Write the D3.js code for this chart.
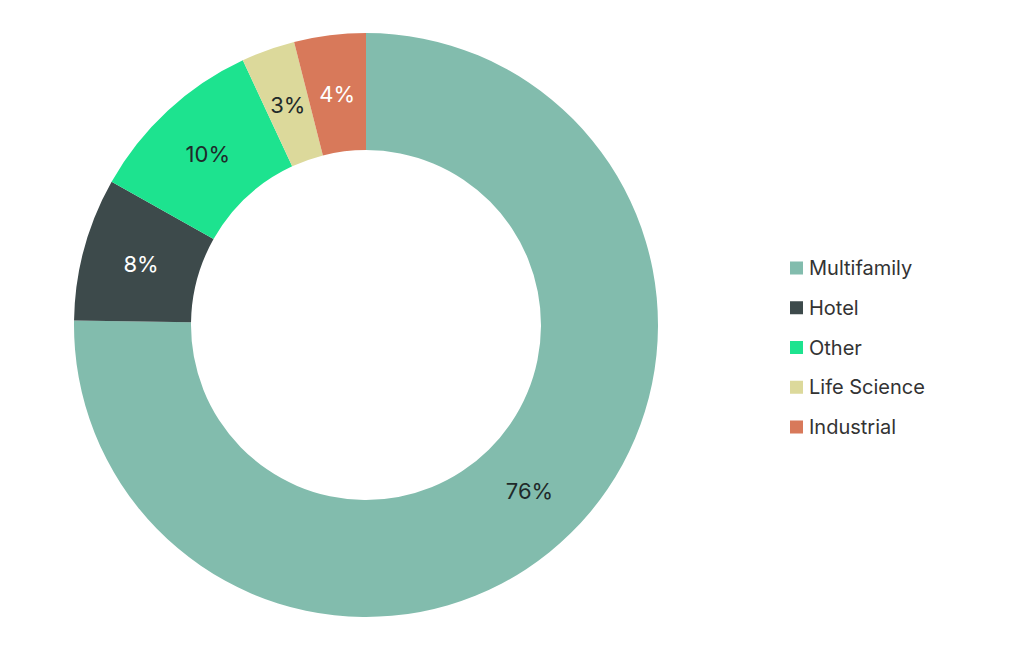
<!DOCTYPE html>
<html><head><meta charset="utf-8">
<script src="https://cdn.jsdelivr.net/npm/d3@7"></script>
<style>body{margin:0;background:#fff;font-family:Inter,"Noto Sans",sans-serif;}</style>
</head><body><svg id="c" width="1013" height="645"></svg>
<script>
const categories=["Multifamily","Hotel","Other","Life Science","Industrial"];
const values=[76,8,10,3,4];
const labels=["76%","8%","10%","3%","4%"];
const colors=["#82bcad","#3d4a4b","#1de38f","#dcd99b","#d8795a"];
const labelColors=["#1f2a2a","#ffffff","#1f2a2a","#1f2a2a","#ffffff"];
const svg=d3.select("#c");
const cx=366,cy=325,R=292,r=175;
const total=d3.sum(values);
const pie=d3.pie().sort(null).value(d=>d).endAngle(2*Math.PI*total/100);
const arcs=pie(values);
const arc=d3.arc().innerRadius(r).outerRadius(R);
const lab=d3.arc().innerRadius(233).outerRadius(233);
const g=svg.append("g").attr("transform",`translate(${cx},${cy})`);
g.selectAll("path").data(arcs).join("path").attr("d",arc).attr("fill",(d,i)=>colors[i]);
g.selectAll("text").data(arcs).join("text")
 .attr("transform",d=>`translate(${lab.centroid(d)})`)
 .attr("text-anchor","middle").attr("dy","0.35em")
 .attr("font-size",22).attr("fill",(d,i)=>labelColors[i])
 .text((d,i)=>labels[i]);
const y=d3.scalePoint().domain(categories).range([268,427]);
const lg=svg.append("g");
categories.forEach(c=>{
 lg.append("rect").attr("x",790).attr("y",y(c)-6.5).attr("width",13).attr("height",13).attr("fill",colors[categories.indexOf(c)]);
 lg.append("text").attr("x",809).attr("y",y(c)).attr("dy","0.35em").attr("font-size",20).attr("fill","#333").text(c);
});
</script></body></html>
